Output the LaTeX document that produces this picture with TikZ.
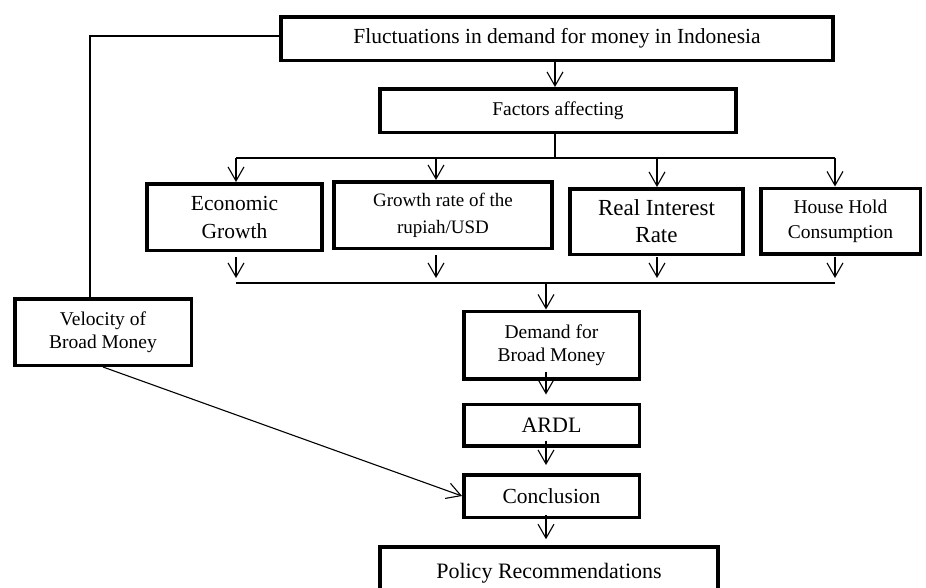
\documentclass[tikz,border=0pt]{standalone}
\usepackage{fontspec}
\setmainfont{Liberation Serif}
\usetikzlibrary{arrows.meta}
\newcommand{\fsz}[2]{\fontsize{#1}{#2}\selectfont}
\begin{document}
\begin{tikzpicture}[x=1pt,y=-1pt,
  box/.style={draw, line width=3.5pt, align=center, inner sep=0pt},
  conn/.style={line width=1.1pt},
  arr/.style={conn, -{Straight Barb[length=14pt,width=16pt,line width=1.1pt]}}]
\useasboundingbox (0,0) rectangle (926,587);
\clip (0,0) rectangle (926,587);
\fill[white] (0,0) rectangle (926,587);
% boxes
\node[box, minimum width=552pt, minimum height=43.5pt, font=\fsz{21.5}{26}] (top) at (557,38.5) {Fluctuations in demand for money in Indonesia};
\node[box, minimum width=356pt, minimum height=43.5pt, font=\fsz{19.5}{24}] (fac) at (558,110.5) {Factors affecting};
\node[box, minimum width=175pt, minimum height=66.5pt, font=\fsz{21.5}{28}] (eco) at (234.5,217) {Economic\\Growth};
\node[box, minimum width=218pt, minimum height=66.5pt, font=\fsz{19}{27}] (gro) at (443,215) {Growth rate of the\\rupiah/USD};
\node[box, minimum width=173pt, minimum height=65.5pt, font=\fsz{23}{27}] (rea) at (656.5,221.5) {Real Interest\\Rate};
\node[box, minimum width=159.5pt, minimum height=65.5pt, font=\fsz{19.5}{25}] (hou) at (840.5,221) {House Hold\\Consumption};
\node[box, minimum width=176.5pt, minimum height=66.5pt, font=\fsz{19.5}{23}] (vel) at (103,332) {Velocity of\\Broad Money};
\node[box, minimum width=175.5pt, minimum height=67.5pt, font=\fsz{19.5}{23}] (dem) at (551.5,345) {Demand for\\Broad Money};
\node[box, minimum width=175.5pt, minimum height=41.5pt, font=\fsz{22}{26}] (ard) at (551.5,425) {ARDL};
\node[box, minimum width=175.5pt, minimum height=42.5pt, font=\fsz{21.5}{26}] (con) at (551.5,496) {Conclusion};
\node[box, minimum width=338pt, minimum height=52pt, font=\fsz{22}{26}] (pol) at (549,573) {Policy Recommendations};
% helper coordinates
\coordinate (cm) at (555,0);
\coordinate (c1) at (236,0);
\coordinate (c2) at (436,0);
\coordinate (c3) at (657,0);
\coordinate (c4) at (835,0);
\coordinate (cd) at (546,0);
\coordinate (bus1) at (0,158);
\coordinate (bus2) at (0,283);
\coordinate (lv) at (90,36);
% connectors
\draw[arr] (top.south -| cm) -- (fac.north -| cm);
\draw[conn] (fac.south -| cm) -- (cm |- bus1);
\draw[conn] (c1 |- bus1) -- (c4 |- bus1);
\draw[arr] (c1 |- bus1) -- (eco.north -| c1);
\draw[arr] (c2 |- bus1) -- (gro.north -| c2);
\draw[arr] (c3 |- bus1) -- (rea.north -| c3);
\draw[arr] (c4 |- bus1) -- (hou.north -| c4);
\draw[arr, shorten <=5pt, shorten >=5pt] (eco.south -| c1) -- (c1 |- bus2);
\draw[arr, shorten <=5pt, shorten >=5pt] (gro.south -| c2) -- (c2 |- bus2);
\draw[arr, shorten <=1pt, shorten >=5pt] (rea.south -| c3) -- (c3 |- bus2);
\draw[arr, shorten <=1pt, shorten >=5pt] (hou.south -| c4) -- (c4 |- bus2);
\draw[conn] (c1 |- bus2) -- (c4 |- bus2);
\draw[arr] (cd |- bus2) -- (dem.north -| cd);
\draw[arr, shorten <=-9pt, shorten >=8pt] (dem.south -| cd) -- (ard.north -| cd);
\draw[arr, shorten <=-7pt, shorten >=8pt] (ard.south -| cd) -- (con.north -| cd);
\draw[arr, shorten <=-4pt, shorten >=6pt] (con.south -| cd) -- (pol.north -| cd);
\draw[conn] (top.west |- lv) -- (lv) -- (lv |- vel.north);
\draw[arr] (vel.south) -- (con.west);
\end{tikzpicture}
\end{document}
